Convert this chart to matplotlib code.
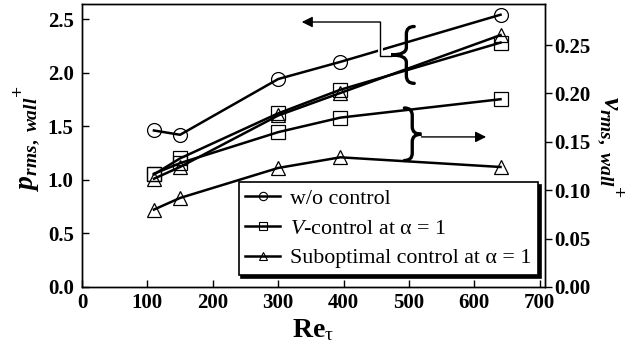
import matplotlib
matplotlib.use("Agg")
import matplotlib.pyplot as plt
from matplotlib.lines import Line2D
from matplotlib.path import Path
from matplotlib.patches import PathPatch
import matplotlib.patheffects as pe

# Friction Reynolds numbers
re_tau = [110, 150, 300, 395, 640]

# Wall pressure fluctuations (left axis)
p_wo_control = [1.46, 1.42, 1.94, 2.10, 2.54]
p_v_control = [1.05, 1.20, 1.62, 1.84, 2.28]
p_suboptimal = [1.01, 1.12, 1.60, 1.81, 2.35]

# Wall-normal velocity fluctuations at the wall (right axis)
v_v_control = [0.117, 0.128, 0.160, 0.175, 0.194]
v_suboptimal = [0.080, 0.092, 0.123, 0.134, 0.124]

legend_labels = ["w/o control",
                 r"$\mathsf{V}$-control at α = 1",
                 "Suboptimal control at α = 1"]

plt.rcParams["font.family"] = "Liberation Serif"
plt.rcParams["font.weight"] = "bold"
plt.rcParams["mathtext.fontset"] = "custom"
plt.rcParams["mathtext.rm"] = "Liberation Serif:bold"
plt.rcParams["mathtext.bf"] = "Liberation Serif:bold"
plt.rcParams["mathtext.it"] = "Liberation Serif:italic:bold"
plt.rcParams["mathtext.sf"] = "Liberation Serif:style=italic:weight=normal"
plt.rcParams["mathtext.tt"] = "Liberation Serif:weight=normal"

W, H = 642, 350
fig = plt.figure(figsize=(W / 100, H / 100), dpi=100)
L, R, T, B = 82, 545, 4, 287
ax = fig.add_axes([L / W, 1 - B / H, (R - L) / W, (B - T) / H])
ax2 = ax.twinx()

lw = 1.8
common = dict(color="black", lw=lw, mfc="none", mec="black", mew=0.9)

ax.plot(re_tau, p_wo_control, marker="o", ms=10, **common)
ax.plot(re_tau, p_v_control, marker="s", ms=9.5, **common)
ax.plot(re_tau, p_suboptimal, marker="^", ms=10, **common)
ax2.plot(re_tau, v_v_control, marker="s", ms=9.5, **common)
ax2.plot(re_tau, v_suboptimal, marker="^", ms=10, **common)

ax.set_xlim(0, 708)
ax.set_ylim(0, 2.64)
ax2.set_ylim(0, 0.2924)

ax.set_xticks(range(0, 701, 100))
ax.set_yticks([0.0, 0.5, 1.0, 1.5, 2.0, 2.5])
ax.set_yticklabels([f"{v:.1f}" for v in ax.get_yticks()])
ax2.set_yticks([0.0, 0.05, 0.10, 0.15, 0.20, 0.25])
ax2.set_yticklabels([f"{v:.2f}" for v in ax2.get_yticks()])

ax.tick_params(axis="both", direction="in", length=5, width=1, labelsize=15)
ax.tick_params(axis="y", pad=6)
ax.tick_params(axis="x", pad=4)
ax2.tick_params(axis="y", direction="out", length=5, width=1, labelsize=15, pad=2)
for a in (ax, ax2):
    for s in a.spines.values():
        s.set_linewidth(1.0)


def brace(axis, x_body, x_tip, x_end, y_top, y_bot, r):
    """Draw a curly brace whose middle tip points toward x_tip."""
    y_mid = 0.5 * (y_top + y_bot)
    verts = [
        (x_end, y_top), (x_body, y_top), (x_body, y_top - r),
        (x_body, y_mid + r),
        (x_body, y_mid), (x_tip, y_mid),
        (x_body, y_mid), (x_body, y_mid - r),
        (x_body, y_bot + r),
        (x_body, y_bot), (x_end, y_bot),
    ]
    codes = [Path.MOVETO, Path.CURVE3, Path.CURVE3,
             Path.LINETO,
             Path.CURVE3, Path.CURVE3,
             Path.CURVE3, Path.CURVE3,
             Path.LINETO,
             Path.CURVE3, Path.CURVE3]
    axis.add_patch(PathPatch(Path(verts, codes), fc="none", ec="black",
                             lw=2.4, capstyle="round", zorder=5))


# Upper group: curves read on the left axis
brace(ax, 496, 473, 508, 2.43, 1.90, 0.07)
connector = ax.plot([473, 455.5, 455.5], [2.155, 2.155, 2.472], color="black",
                    lw=1.0, zorder=4)[0]
connector.set_path_effects([pe.Stroke(linewidth=3.5, foreground="white"),
                            pe.Normal()])
ax.annotate("", xy=(336, 2.472), xytext=(456, 2.472),
            arrowprops=dict(arrowstyle="-|>", color="black", lw=1.0,
                            mutation_scale=16, shrinkA=0, shrinkB=0),
            zorder=4)

# Lower group: curves read on the right axis
brace(ax, 505, 519, 493, 1.67, 1.18, 0.07)
ax.annotate("", xy=(618, 1.40), xytext=(519, 1.40),
            arrowprops=dict(arrowstyle="-|>", color="black", lw=1.0,
                            mutation_scale=16, shrinkA=0, shrinkB=0),
            zorder=4)

# Legend
handles = [
    Line2D([], [], color="black", lw=lw, marker="o", ms=6, mfc="none", mew=0.8),
    Line2D([], [], color="black", lw=lw, marker="s", ms=6, mfc="none", mew=0.8),
    Line2D([], [], color="black", lw=lw, marker="^", ms=6, mfc="none", mew=0.8),
]
leg = ax2.legend(handles, legend_labels, loc="lower right",
                 bbox_to_anchor=(0.985, 0.043), borderaxespad=0,
                 prop={"family": "Liberation Serif", "weight": "normal", "size": 15.8},
                 handlelength=1.6, handletextpad=0.45, labelspacing=0.42,
                 borderpad=0.3, fancybox=False, framealpha=1,
                 edgecolor="black",
                 shadow={"facecolor": "black", "edgecolor": "black", "alpha": 1})
leg.get_frame().set_linewidth(1.2)

# Axis titles
fig.text(313 / W, 1 - 330 / H, r"Re$_{\mathtt{τ}}$", fontsize=20,
         fontweight="bold", ha="center", va="center")
fig.text(27 / W, 1 - 138 / H, r"$p_{rms,\ wall}{}^{+}$", fontsize=20,
         rotation=90, ha="center", va="center")
fig.text(610 / W, 1 - 147 / H, r"$v_{rms,\ wall}{}^{+}$", fontsize=20,
         rotation=270, ha="center", va="center")

fig.savefig("out.png", dpi=100)
